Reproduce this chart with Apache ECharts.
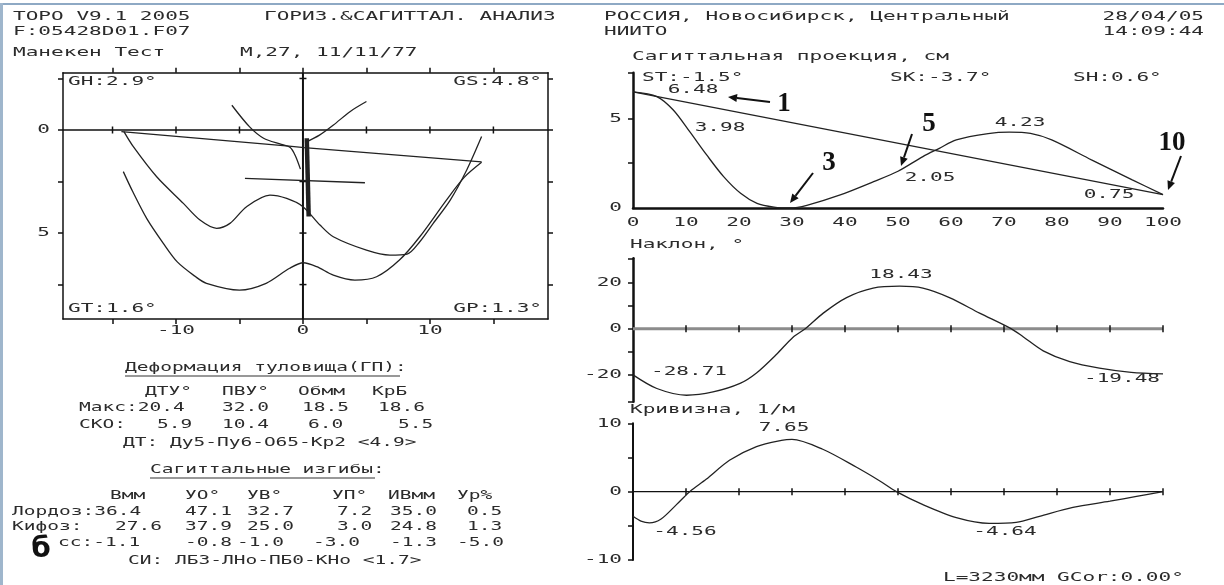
<!DOCTYPE html>
<html>
<head>
<meta charset="utf-8">
<script src="https://cdn.jsdelivr.net/npm/echarts@6/dist/echarts.min.js"></script>
<style>
html, body { margin: 0; background: #fff; }
#main { width: 1224px; height: 585px; }
</style>
</head>
<body>
<div id="main"></div>
<script>
// ---- левая панель: горизонтальная проекция ----
var hXMin = -18.9, hXMax = 19.3, hYMin = -2.78, hYMax = 9.17;
var hXTicks = [-15, -10, -5, 0, 5, 10, 15];
var hYTicks = [-2.5, 0, 2.5, 5, 7.5];
var hXLabels = [-10, 0, 10];
var hYLabels = [0, 5];
var hShoulderL = [[-5.6, -1.2], [-4.2, -0.15], [-3.1, 0.4], [-1.7, 0.7], [-1.0, 0.85], [-0.6, 1.25], [-0.2, 1.9]];
var hShoulderR = [[0.2, 0.6], [1.3, 0.25], [2.4, -0.24], [3.7, -0.89], [5.0, -1.38]];
var hAxisLine = [[-14.3, 0.08], [-1.1, 0.78], [0.1, 0.86], [14.07, 1.55]];
var hPelvis = [[-4.57, 2.35], [4.88, 2.56]];
var hSpine = [[0.3, 0.4], [0.45, 4.2]];
var hMid = [[-14.1, 0.08], [-13.36, 0.81], [-11.52, 2.27], [-9.42, 3.56], [-8.11, 4.37], [-6.8, 4.77], [-5.75, 4.53],
  [-4.44, 3.72], [-2.6, 3.16], [-1.28, 3.32], [0.0, 3.72], [1.34, 4.61], [2.39, 5.18], [5.0, 5.83], [6.85, 6.07],
  [8.2, 6.02], [9.2, 5.42], [10.26, 4.53], [11.6, 3.4], [12.9, 1.94], [14.07, 0.32]];
var hLow = [[-14.15, 2.02], [-13.4, 3.0], [-12.3, 4.3], [-11.0, 5.5], [-9.9, 6.4], [-8.5, 7.1], [-7.6, 7.44], [-5.0, 7.77],
  [-2.9, 7.44], [-1.05, 6.71], [0.03, 6.44], [1.08, 6.63], [2.39, 7.04], [4.09, 7.28], [5.8, 7.12], [7.6, 6.31],
  [9.2, 5.18], [11.3, 3.4], [12.7, 2.3], [14.07, 1.57]];

// ---- правая панель: сагиттальная проекция, наклон, кривизна ----
var pctLabels = [0, 10, 20, 30, 40, 50, 60, 70, 80, 90, 100];
var pctTicks = [10, 20, 30, 40, 50, 60, 70, 80, 90, 100];
var sagYMax = 7.55;
var sagYTicks = [2.5, 5, 7.55];
var sagYLabels = [0, 5];
var sagLine1 = [[0, 6.48], [100, 0.75]];
var sagLine3 = [[0, 6.48], [4.5, 6.22], [7.6, 5.47], [10.7, 4.26], [13.9, 2.96], [17.1, 1.75], [20.3, 0.82], [23.4, 0.26],
  [26.6, 0.05], [29.7, 0], [32.8, 0.15], [39.1, 0.73], [45.4, 1.47], [50, 2.05], [54.7, 2.87], [57.8, 3.33], [61, 3.8],
  [67, 4.15], [71, 4.23], [75, 4.16], [79, 3.8], [86.5, 2.69], [94.2, 1.57], [100, 0.75]];
var slopeMin = -31.5, slopeMax = 30.5;
var slopeYTicks = [-31.5, -20, -10, 0, 10, 20, 30.5];
var slopeYLabels = [-20, 0, 20];
var slope = [[0, -19.9], [4.5, -25.8], [10.1, -28.71], [15.1, -27.3], [20.2, -23.6], [23.3, -19.1], [27.1, -11],
  [30.2, -3.6], [32.5, 0], [35.9, 6.8], [40.3, 13.5], [45.3, 17.6], [50.3, 18.43], [54.7, 17.6], [59.7, 13.5],
  [65.4, 6.8], [71.4, 0], [73.6, -3.4], [77.4, -9.5], [82.4, -14.2], [88, -17], [94, -18.8], [100, -19.48]];
var curvYTicks = [-10, -5, 0, 5, 10];
var curvYLabels = [-10, 0, 10];
var curv = [[0, -3.6], [1.5, -4.3], [3.1, -4.56], [5.3, -4.0], [8.2, -1.9], [10.7, 0], [13.8, 1.8], [18.2, 4.6],
  [23.3, 6.6], [28, 7.5], [30, 7.65], [35.8, 6.2], [42.1, 3.6], [46.5, 1.6], [49.7, 0], [54.7, -1.9], [61, -3.8],
  [67.2, -4.64], [72.3, -4.5], [76.7, -3.6], [83, -2.3], [90, -1.4], [95, -0.7], [100, 0]];

var INK = '#222';
var FONT = 'DejaVu Sans Mono';

function T(x, y, text, align, o) {
  o = o || {};
  return {
    type: 'text', x: x, y: y, scaleX: o.sx || 1.62, z: 10,
    style: {
      text: text, fill: o.color || '#2b2b2b', fontFamily: o.family || FONT,
      fontSize: o.size || 13, fontWeight: o.weight || 'normal',
      textAlign: align || 'left', textVerticalAlign: 'middle'
    }
  };
}
function arrow(x1, y1, x2, y2) {
  var a = Math.atan2(y2 - y1, x2 - x1), L = 9, W = 4;
  var bx = x2 - L * Math.cos(a), by = y2 - L * Math.sin(a);
  var nx = -Math.sin(a) * W, ny = Math.cos(a) * W;
  return [
    { type: 'line', z: 10, shape: { x1: x1, y1: y1, x2: bx, y2: by }, style: { stroke: '#111', lineWidth: 2 } },
    { type: 'polygon', z: 10, shape: { points: [[x2, y2], [bx + nx, by + ny], [bx - nx, by - ny]] }, style: { fill: '#111' } }
  ];
}
// линия нуля с поперечными рисками
function tickLine(idx, from, to, ticks, horiz, color, width) {
  var pt = function (v) { return horiz ? [v, 0] : [0, v]; };
  var data = [{ value: pt(from), symbol: 'none' }];
  ticks.forEach(function (t) { if (t !== 0) data.push({ value: pt(t) }); });
  data.push({ value: pt(to), symbol: 'none' });
  return {
    type: 'line', xAxisIndex: idx, yAxisIndex: idx, data: data, silent: true, z: 1,
    symbol: 'rect', symbolSize: horiz ? [1.5, 7] : [7, 1.5],
    itemStyle: { color: '#111' }, lineStyle: { color: color, width: width }
  };
}
function curve(idx, data, o) {
  o = o || {};
  return {
    type: 'line', xAxisIndex: idx, yAxisIndex: idx, data: data, showSymbol: false, silent: true,
    smooth: o.smooth === undefined ? 0.3 : o.smooth, z: 3,
    lineStyle: { color: INK, width: o.width || 1.3 }
  };
}
function vAxis(min, max, ticks, pos, extra, lineW) {
  var a = {
    type: 'value', min: min, max: max, position: pos, splitLine: { show: false },
    axisLine: { show: true, onZero: false, lineStyle: { color: '#111', width: lineW || 1.5 } },
    axisTick: { show: ticks.length > 0, customValues: ticks, length: 5, lineStyle: { color: '#111', width: 1.5 } },
    axisLabel: { show: false }
  };
  return Object.assign(a, extra || {});
}

var option = {
  animation: false,
  backgroundColor: '#fff',
  grid: [
    { left: 63, top: 72.7, width: 485, height: 246.3, outerBoundsMode: 'none' },
    { left: 633, top: 72.7, width: 530, height: 135.3, outerBoundsMode: 'none' },
    { left: 633, top: 258.3, width: 530, height: 143.4, outerBoundsMode: 'none' },
    { left: 633, top: 423.3, width: 530, height: 136.7, outerBoundsMode: 'none' }
  ],
  xAxis: [
    vAxis(hXMin, hXMax, hXTicks, 'bottom', { gridIndex: 0 }),
    vAxis(hXMin, hXMax, hXTicks, 'top', { gridIndex: 0 }),
    vAxis(0, 100, [], 'bottom', { gridIndex: 1 }, 2.5),
    vAxis(0, 100, [], 'bottom', { gridIndex: 2, show: false }),
    vAxis(0, 100, [], 'bottom', { gridIndex: 3, show: false })
  ],
  yAxis: [
    vAxis(hYMin, hYMax, hYTicks, 'left', { gridIndex: 0, inverse: true }),
    vAxis(hYMin, hYMax, hYTicks, 'right', { gridIndex: 0, inverse: true }),
    vAxis(0, sagYMax, sagYTicks, 'left', { gridIndex: 1 }, 2.5),
    vAxis(slopeMin, slopeMax, slopeYTicks, 'left', { gridIndex: 2 }, 2.5),
    vAxis(-10, 10, curvYTicks, 'left', { gridIndex: 3 }, 2)
  ],
  series: [
    tickLine(0, hXMin, hXMax, hXTicks, true, '#111', 1.5),
    tickLine(0, hYMin, hYMax, hYTicks, false, '#111', 2),
    curve(0, hShoulderL),
    curve(0, hShoulderR),
    curve(0, hAxisLine, { smooth: false }),
    curve(0, hPelvis, { smooth: false }),
    curve(0, hSpine, { smooth: false, width: 4.5 }),
    curve(0, hMid),
    curve(0, hLow),
    curve(2, sagLine1, { smooth: false }),
    curve(2, sagLine3),
    tickLine(3, 0, 100, pctTicks, true, '#8c8c8c', 3),
    curve(3, slope),
    tickLine(4, 0, 100, pctTicks, true, '#111', 1.3),
    curve(4, curv)
  ]
};

var chart = echarts.init(document.getElementById('main'));
chart.setOption(option);

function px(i, v) { return chart.convertToPixel({ xAxisIndex: i, yAxisIndex: i }, v); }

var tb = { sx: 1.5 };
var g = [
  { type: 'rect', shape: { x: 0, y: 3, width: 1224, height: 2 }, style: { fill: '#8ea9c4' } },
  { type: 'rect', shape: { x: 0, y: 3, width: 3, height: 582 }, style: { fill: '#9fb6cc' } },
  // шапка
  T(13, 17, 'TOPO V9.1 2005'),
  T(264, 17, 'ГОРИЗ.&САГИТТАЛ. АНАЛИЗ'),
  T(604, 17, 'РОССИЯ, Новосибирск, Центральный'),
  T(1204, 17, '28/04/05', 'right'),
  T(13, 32, 'F:05428D01.F07'),
  T(604, 32, 'НИИТО'),
  T(1204, 32, '14:09:44', 'right'),
  T(13, 53, 'Манекен Тест'),
  T(240, 53, 'М,27, 11/11/77'),
  // углы рамки
  T(68, 82, 'GH:2.9°'),
  T(542, 82, 'GS:4.8°', 'right'),
  T(68, 309, 'GT:1.6°'),
  T(542, 309, 'GP:1.3°', 'right'),
  // таблица деформации
  T(125, 368, 'Деформация туловища(ГП):', 'left', tb),
  { type: 'line', shape: { x1: 125, y1: 376, x2: 400, y2: 376 }, style: { stroke: '#333', lineWidth: 1.2 } },
  T(145, 392, 'ДТУ°', 'left', tb), T(222, 392, 'ПВУ°', 'left', tb),
  T(298, 392, 'Обмм', 'left', tb), T(372, 392, 'КрБ', 'left', tb),
  T(79, 408, 'Макс:20.4', 'left', tb), T(222, 408, '32.0', 'left', tb),
  T(302, 408, '18.5', 'left', tb), T(378, 408, '18.6', 'left', tb),
  T(79, 425, 'СКО:', 'left', tb), T(157, 425, '5.9', 'left', tb),
  T(222, 425, '10.4', 'left', tb), T(308, 425, '6.0', 'left', tb), T(398, 425, '5.5', 'left', tb),
  T(123, 443, 'ДТ: Ду5-Пу6-О65-Кр2 <4.9>', 'left', tb),
  T(150, 470, 'Сагиттальные изгибы:', 'left', tb),
  { type: 'line', shape: { x1: 150, y1: 478, x2: 375, y2: 478 }, style: { stroke: '#333', lineWidth: 1.2 } },
  T(110, 496, 'Вмм', 'left', tb), T(185, 496, 'УО°', 'left', tb), T(247, 496, 'УВ°', 'left', tb),
  T(332, 496, 'УП°', 'left', tb), T(388, 496, 'ИВмм', 'left', tb), T(457, 496, 'Ур%', 'left', tb),
  T(12, 512, 'Лордоз:36.4', 'left', tb), T(185, 512, '47.1', 'left', tb), T(247, 512, '32.7', 'left', tb),
  T(337, 512, '7.2', 'left', tb), T(390, 512, '35.0', 'left', tb), T(467, 512, '0.5', 'left', tb),
  T(12, 527, 'Кифоз:', 'left', tb), T(115, 527, '27.6', 'left', tb), T(185, 527, '37.9', 'left', tb),
  T(247, 527, '25.0', 'left', tb), T(337, 527, '3.0', 'left', tb), T(390, 527, '24.8', 'left', tb),
  T(467, 527, '1.3', 'left', tb),
  T(58, 543, 'сс:-1.1', 'left', tb), T(185, 543, '-0.8', 'left', tb), T(237, 543, '-1.0', 'left', tb),
  T(313, 543, '-3.0', 'left', tb), T(390, 543, '-1.3', 'left', tb), T(457, 543, '-5.0', 'left', tb),
  T(128, 561, 'СИ: ЛБ3-ЛНо-ПБ0-КНо <1.7>', 'left', tb),
  T(41, 550, 'б', 'center', { sx: 1, family: 'DejaVu Sans', size: 28, weight: 'bold', color: '#111' }),
  // правая панель: заголовки
  T(632, 57, 'Сагиттальная проекция, см'),
  T(642, 78, 'ST:-1.5°'),
  T(890, 78, 'SK:-3.7°'),
  T(1073, 78, 'SH:0.6°'),
  T(630, 245, 'Наклон, °'),
  T(630, 410, 'Кривизна, 1/м'),
  T(943, 578, 'L=3230мм GCor:0.00°'),
  // подписи значений
  T(693, 90, '6.48', 'center'), T(720, 128, '3.98', 'center'), T(930, 178, '2.05', 'center'),
  T(1020, 123, '4.23', 'center'), T(1109, 195, '0.75', 'center'),
  T(901, 275, '18.43', 'center'), T(689, 372, '-28.71', 'center'), T(1122, 379, '-19.48', 'center'),
  T(784, 428, '7.65', 'center'), T(685, 532, '-4.56', 'center'), T(1005, 532, '-4.64', 'center')
];

// номера точек со стрелками
var serif = { sx: 1, family: 'Liberation Serif', size: 27, weight: 'bold', color: '#111' };
g.push(T(784, 104, '1', 'center', serif), T(829, 163, '3', 'center', serif),
  T(929, 124, '5', 'center', serif), T(1172, 143, '10', 'center', serif));
g = g.concat(arrow(770, 102, 728, 97), arrow(813, 173, 790, 203), arrow(912, 134, 901, 166), arrow(1181, 156, 1168, 190));

// подписи осей через шкалы графика
hXLabels.forEach(function (v) { var p = px(0, [v, hYMax]); g.push(T(p[0], p[1] + 12, String(v), 'center')); });
hYLabels.forEach(function (v) { var p = px(0, [hXMin, v]); g.push(T(p[0] - 13, p[1], String(v), 'right')); });
pctLabels.forEach(function (v) { var p = px(2, [v, 0]); g.push(T(p[0], p[1] + 15, String(v), 'center')); });
sagYLabels.forEach(function (v) { var p = px(2, [0, v]); g.push(T(p[0] - 11, p[1], String(v), 'right')); });
slopeYLabels.forEach(function (v) { var p = px(3, [0, v]); g.push(T(p[0] - 11, p[1], String(v), 'right')); });
curvYLabels.forEach(function (v) { var p = px(4, [0, v]); g.push(T(p[0] - 11, p[1], String(v), 'right')); });

chart.setOption({ graphic: { elements: g } });
</script>
</body>
</html>
